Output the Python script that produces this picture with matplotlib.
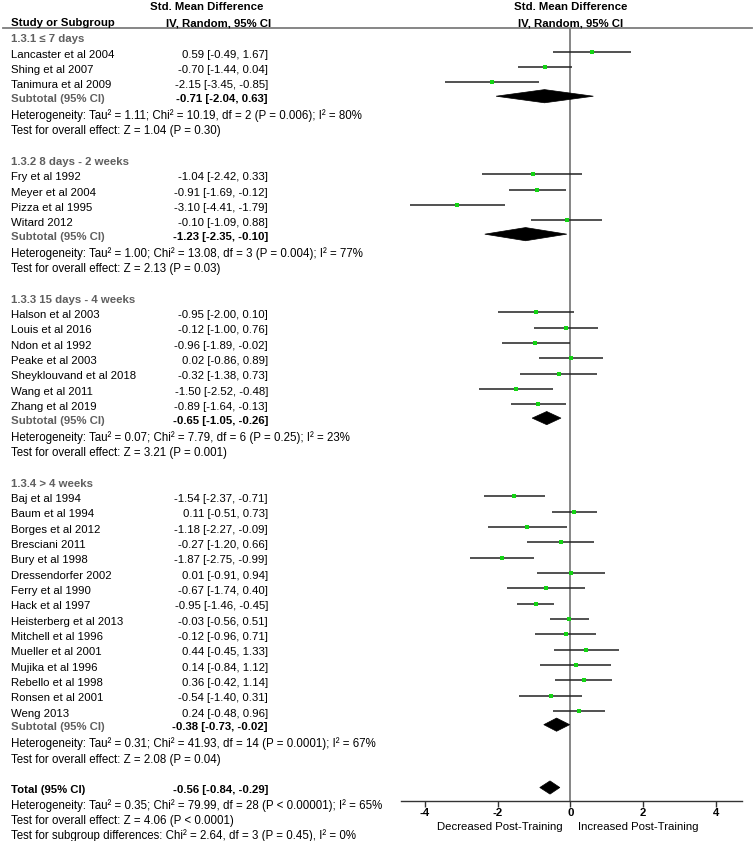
import matplotlib
matplotlib.use("Agg")
import matplotlib.pyplot as plt
import matplotlib.transforms as mtransforms
from matplotlib.lines import Line2D
from matplotlib.patches import Polygon

plt.rcParams["font.family"] = ["Liberation Sans", "DejaVu Sans"]

# ---- data -------------------------------------------------------------
group_titles = ["1.3.1 \u2264 7 days", "1.3.2 8 days - 2 weeks",
                "1.3.3 15 days - 4 weeks", "1.3.4 > 4 weeks"]
group_sizes = [3, 4, 7, 15]

studies = ["Lancaster et al 2004", "Shing et al 2007", "Tanimura et al 2009",
           "Fry et al 1992", "Meyer et al 2004", "Pizza et al 1995", "Witard 2012",
           "Halson et al 2003", "Louis et al 2016", "Ndon et al 1992",
           "Peake et al 2003", "Sheyklouvand et al 2018", "Wang et al 2011",
           "Zhang et al 2019",
           "Baj et al 1994", "Baum et al 1994", "Borges et al 2012",
           "Bresciani 2011", "Bury et al 1998", "Dressendorfer 2002",
           "Ferry et al 1990", "Hack et al 1997", "Heisterberg et al 2013",
           "Mitchell et al 1996", "Mueller et al 2001", "Mujika et al 1996",
           "Rebello et al 1998", "Ronsen et al 2001", "Weng 2013"]
smd = [0.59, -0.70, -2.15,
       -1.04, -0.91, -3.10, -0.10,
       -0.95, -0.12, -0.96, 0.02, -0.32, -1.50, -0.89,
       -1.54, 0.11, -1.18, -0.27, -1.87, 0.01, -0.67, -0.95, -0.03, -0.12,
       0.44, 0.14, 0.36, -0.54, 0.24]
ci_lo = [-0.49, -1.44, -3.45,
         -2.42, -1.69, -4.41, -1.09,
         -2.00, -1.00, -1.89, -0.86, -1.38, -2.52, -1.64,
         -2.37, -0.51, -2.27, -1.20, -2.75, -0.91, -1.74, -1.46, -0.56, -0.96,
         -0.45, -0.84, -0.42, -1.40, -0.48]
ci_hi = [1.67, 0.04, -0.85,
         0.33, -0.12, -1.79, 0.88,
         0.10, 0.76, -0.02, 0.89, 0.73, -0.48, -0.13,
         -0.71, 0.73, -0.09, 0.66, -0.99, 0.94, 0.40, -0.45, 0.51, 0.71,
         1.33, 1.12, 1.14, 0.31, 0.96]

sub_smd = [-0.71, -1.23, -0.65, -0.38]
sub_lo = [-2.04, -2.35, -1.05, -0.73]
sub_hi = [0.63, -0.10, -0.26, -0.02]
het_lines = [
    "Heterogeneity: Tau\u00b2 = 1.11; Chi\u00b2 = 10.19, df = 2 (P = 0.006); I\u00b2 = 80%",
    "Heterogeneity: Tau\u00b2 = 1.00; Chi\u00b2 = 13.08, df = 3 (P = 0.004); I\u00b2 = 77%",
    "Heterogeneity: Tau\u00b2 = 0.07; Chi\u00b2 = 7.79, df = 6 (P = 0.25); I\u00b2 = 23%",
    "Heterogeneity: Tau\u00b2 = 0.31; Chi\u00b2 = 41.93, df = 14 (P = 0.0001); I\u00b2 = 67%"]
effect_lines = ["Test for overall effect: Z = 1.04 (P = 0.30)",
                "Test for overall effect: Z = 2.13 (P = 0.03)",
                "Test for overall effect: Z = 3.21 (P = 0.001)",
                "Test for overall effect: Z = 2.08 (P = 0.04)"]

total_smd, total_lo, total_hi = -0.56, -0.84, -0.29
total_lines = [
    "Heterogeneity: Tau\u00b2 = 0.35; Chi\u00b2 = 79.99, df = 28 (P < 0.00001); I\u00b2 = 65%",
    "Test for overall effect: Z = 4.06 (P < 0.0001)",
    "Test for subgroup differences: Chi\u00b2 = 2.64, df = 3 (P = 0.45), I\u00b2 = 0%"]

xticks = [-4, -2, 0, 2, 4]

# ---- layout -----------------------------------------------------------
W, H = 754, 841
GREY = "#5f5f5f"
FS = 8.2      # study rows
FS_SM = 8.3   # heterogeneity / test lines
NAME_X = 11 / W
VAL_X = 268 / W
BASE = 0.38   # text baseline offset (rows) below marker line


def fmt(m, l, h):
    return f"{m:.2f} [{l:.2f}, {h:.2f}]"


def diamond(ax, y, m, l, h):
    ax.add_patch(Polygon([(l, y), (m, y - 0.43), (h, y), (m, y + 0.43)],
                         closed=True, fc="black", ec="black", lw=0.5))


fig = plt.figure(figsize=(W / 100, H / 100), dpi=100)
ax = fig.add_axes([401 / W, 1 - 801 / H, 341 / W, (801 - 28) / H])
ax.set_xlim(-4.65, 4.71)
ax.set_ylim(49.88, -0.55)
for s in ("top", "right", "left"):
    ax.spines[s].set_visible(False)
ax.spines["bottom"].set_color("#333333")
ax.spines["bottom"].set_linewidth(1.0)
ax.set_yticks([])
ax.set_xticks(xticks)
ax.set_xticklabels([str(t) for t in xticks], fontweight="bold", fontsize=8.2)
ax.tick_params(axis="x", length=4, width=1, color="#333333", pad=1)
ax.axvline(0, color="#7d7d7d", lw=1.3, zorder=1)

tr = mtransforms.blended_transform_factory(fig.transFigure, ax.transData)


def txt(x, y, s, **kw):
    kw.setdefault("fontsize", FS)
    ax.text(x, y + BASE, s, transform=tr, va="baseline", clip_on=False, **kw)


row = 0
i = 0
for g, n in enumerate(group_sizes):
    txt(NAME_X, row, group_titles[g], color=GREY, fontweight="bold")
    row += 1
    for k in range(n):
        txt(NAME_X, row, studies[i])
        txt(VAL_X, row, fmt(smd[i], ci_lo[i], ci_hi[i]), ha="right")
        ax.plot([ci_lo[i], ci_hi[i]], [row, row], color="#222222", lw=1.1,
                solid_capstyle="butt", zorder=2)
        ax.plot(smd[i], row, marker="s", ms=2.4, mew=0, color="#14d414",
                zorder=3)
        i += 1
        row += 1
    txt(NAME_X, row - 0.1, "Subtotal (95% CI)", color=GREY, fontweight="bold")
    txt(VAL_X, row - 0.1, fmt(sub_smd[g], sub_lo[g], sub_hi[g]), ha="right",
        fontweight="bold")
    diamond(ax, row - 0.1, sub_smd[g], sub_lo[g], sub_hi[g])
    row += 1
    txt(NAME_X, row, het_lines[g], fontsize=FS_SM)
    row += 1
    txt(NAME_X, row, effect_lines[g], fontsize=FS_SM)
    row += 2

txt(NAME_X, row, "Total (95% CI)", fontweight="bold")
txt(VAL_X, row, fmt(total_smd, total_lo, total_hi), ha="right", fontweight="bold")
diamond(ax, row, total_smd, total_lo, total_hi)
for line in total_lines:
    row += 1
    txt(NAME_X, row, line, fontsize=FS_SM)

# axis captions
ax.text(-0.2, 51.78, "Decreased Post-Training", ha="right", va="baseline",
        fontsize=FS, clip_on=False)
ax.text(0.2, 51.78, "Increased Post-Training", ha="left", va="baseline",
        fontsize=FS, clip_on=False)

# column headers
fig.text(NAME_X, 1 - 26 / H, "Study or Subgroup", fontsize=FS, fontweight="bold")
fig.text(207 / W, 1 - 10 / H, "Std. Mean Difference", fontsize=FS,
         fontweight="bold", ha="center")
fig.text(219 / W, 1 - 26 / H, "IV, Random, 95% CI", fontsize=FS,
         fontweight="bold", ha="center")
fig.text(571 / W, 1 - 10 / H, "Std. Mean Difference", fontsize=FS,
         fontweight="bold", ha="center")
fig.text(571 / W, 1 - 26 / H, "IV, Random, 95% CI", fontsize=FS,
         fontweight="bold", ha="center")
fig.add_artist(Line2D([3 / W, 752 / W], [1 - 28 / H, 1 - 28 / H],
                      transform=fig.transFigure, color="#7d7d7d", lw=1.3))

fig.savefig("out.png", dpi=100)
